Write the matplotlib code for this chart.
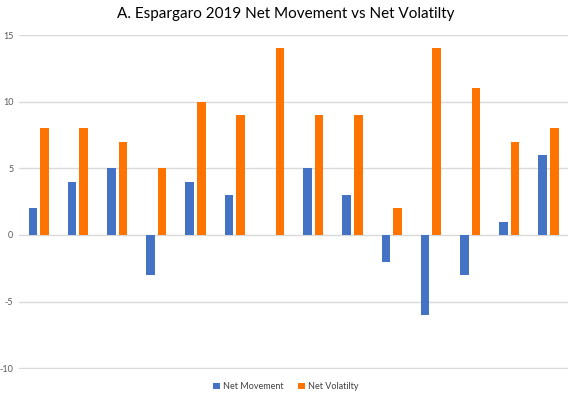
import numpy as np
import matplotlib.pyplot as plt

plt.rcParams['font.family'] = ['Lato', 'DejaVu Sans']
plt.rcParams['axes.unicode_minus'] = False

races = list(range(1, 15))
net_movement = [2, 4, 5, -3, 4, 3, 0, 5, 3, -2, -6, -3, 1, 6]
net_volatility = [8, 8, 7, 5, 10, 9, 14, 9, 9, 2, 14, 11, 7, 8]

blue = '#4472C4'
orange = '#FF7300'

fig = plt.figure(figsize=(5.72, 3.96), dpi=100)
ax = fig.add_axes([0.0332, 0.0682, 0.96, 0.8434])

x = np.arange(len(races))
w = 0.22
ax.bar(x - 0.145, net_movement, width=w, color=blue, label='Net Movement', zorder=3)
ax.bar(x + 0.15, net_volatility, width=w, color=orange, label='Net Volatilty', zorder=3)

ax.set_xlim(-0.5, len(races) - 0.5)
ax.set_ylim(-10.05, 15)
ax.set_yticks([-10, -5, 0, 5, 10, 15])
ax.set_xticks([])
ax.grid(axis='y', color='#d9d9d9', linewidth=1, zorder=0)
for s in ax.spines.values():
    s.set_visible(False)
ax.tick_params(axis='y', length=0, labelsize=6.5, labelcolor='#595959', pad=4)

fig.text(0.5, 0.964, 'A. Espargaro 2019 Net Movement vs Net Volatilty',
         ha='center', va='center', fontsize=11, color='black')

fig.legend(loc='center', bbox_to_anchor=(0.5, 0.023), ncol=2, frameon=False,
           fontsize=6.5, handlelength=0.7, handleheight=0.7, columnspacing=1.6,
           handletextpad=0.4, labelcolor='#404040')

fig.savefig('out.png', dpi=100)
